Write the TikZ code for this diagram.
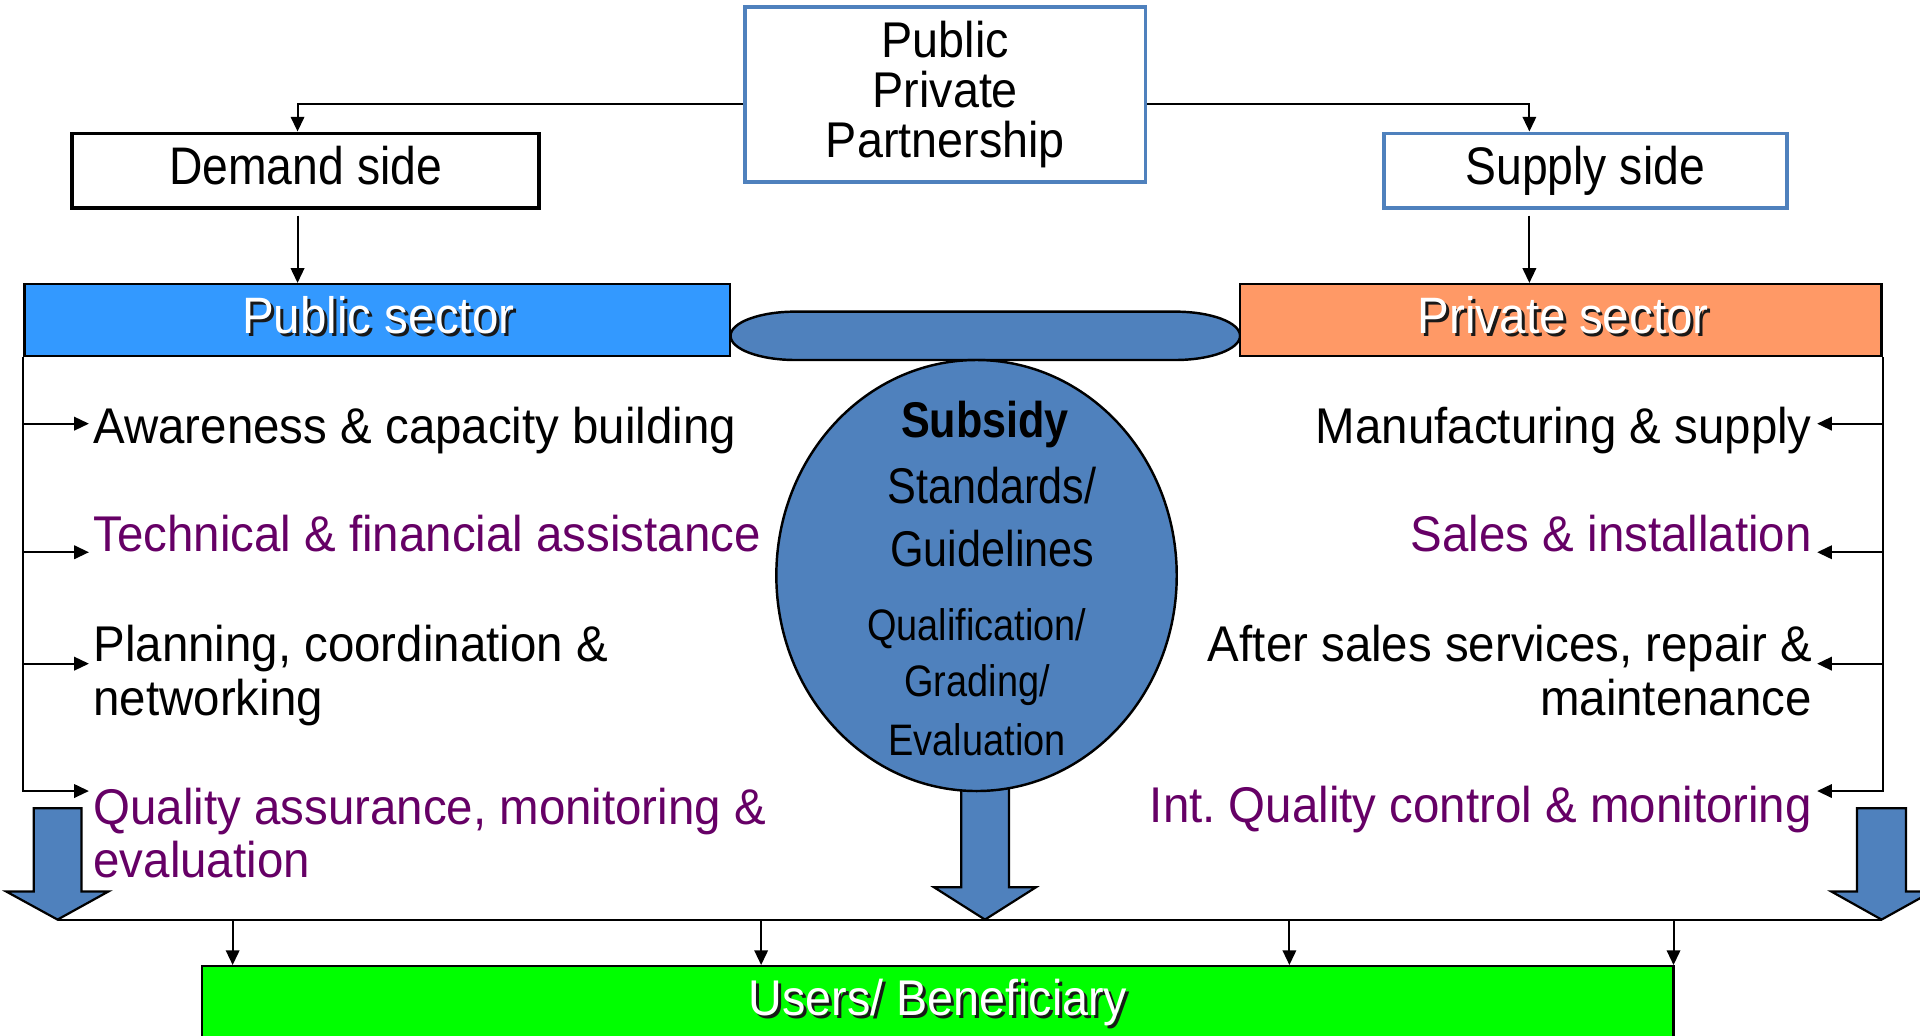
\documentclass[tikz,border=0pt]{standalone}
\usepackage{fontspec}
\setmainfont{Liberation Sans}
\newfontfamily\fn[FakeStretch=0.945]{Liberation Sans}
\newfontfamily\fppp[FakeStretch=0.93]{Liberation Sans}
\newfontfamily\fsec[FakeStretch=0.93]{Liberation Sans}
\newfontfamily\fside[FakeStretch=0.875]{Liberation Sans}
\newfontfamily\fell[FakeStretch=0.86]{Liberation Sans}
\usetikzlibrary{arrows.meta,shapes.geometric}
\definecolor{pptblue}{HTML}{4F81BD}
\definecolor{pubblue}{HTML}{3399FF}
\definecolor{privorange}{HTML}{FF9966}
\definecolor{usergreen}{HTML}{00FF00}
\definecolor{purp}{HTML}{660066}
\newcommand\shadowtxt[1]{\leavevmode\rlap{\kern1.2pt\raisebox{-1.2pt}{\color{black!90}#1}}{\color{white}#1}}
\frenchspacing
\begin{document}
\begin{tikzpicture}[x=0.5pt,y=-0.5pt,
  arr/.style={draw=black,line width=0.8pt,-{Triangle[length=6pt,width=5.5pt]}},
  conn/.style={draw=black,line width=0.8pt},
  lbl/.style={inner sep=0pt,font={\fn\fontsize{20.5}{22}\selectfont}},
  ellbl/.style={inner sep=0pt,anchor=base,font={\fell\fontsize{20.5}{22}\selectfont}},
  ellsm/.style={inner sep=0pt,anchor=base,font={\fell\fontsize{18}{20}\selectfont}},
  seclbl/.style={inner sep=0pt,anchor=base,font={\fsec\fontsize{20.9}{22}\selectfont}},
  sidelbl/.style={inner sep=0pt,anchor=base,font={\fside\fontsize{21.6}{22}\selectfont}},
  blockarrow/.style={fill=pptblue,draw=black,line width=0.9pt,line join=miter},
  box/.style={inner sep=0pt,line width=0.9pt,draw=black}]
\useasboundingbox (0,0) rectangle (1568,846);
\clip (0,0) rectangle (1568,846);
\fill[white] (0,0) rectangle (1568,846);

% capsule
\draw[fill=pptblue,draw=black,line width=1pt] (649.6,254.5) -- (959.7,254.5)
  arc[start angle=-90,end angle=90,x radius=53,y radius=19.75] -- (649.6,294)
  arc[start angle=90,end angle=270,x radius=53,y radius=19.75] -- cycle;

% block arrows
\coordinate (bl) at (47,751);
\coordinate (bm) at (804.4,751);
\coordinate (br) at (1536.6,751);
\draw[blockarrow] (27.5,660) -- (66.5,660) -- (66.5,728) -- (88.6,728) -- (bl) -- (5,728) -- (27.5,728) -- cycle;
\draw[blockarrow] (785,630) -- (824,630) -- (824,724.6) -- (846,724.6) -- (bm) -- (762.8,724.6) -- (785,724.6) -- cycle;
\draw[blockarrow] (1516.6,660) -- (1556.5,660) -- (1556.5,728) -- (1578,728) -- (br) -- (1495.5,728) -- (1516.6,728) -- cycle;

% ellipse
\node[ellipse,draw=black,line width=1pt,fill=pptblue,minimum width=163.5pt,minimum height=176pt,inner sep=0pt] (ell) at (797.5,470) {};
\node[ellbl,font={\fell\bfseries\fontsize{20.5}{22}\selectfont}] (subs) at (804.4,357) {Subsidy};
\node[ellbl] (stand) at (810,411) {Standards/};
\node[ellbl] (guide) at (810.4,462.8) {Guidelines};
\node[ellsm] (qual) at (797.6,522.7) {Qualification/};
\node[ellsm] (grad) at (798,569) {Grading/};
\node[ellsm] (eval) at (798,616.6) {Evaluation};

% top boxes
\node[draw=pptblue,line width=1.6pt,minimum width=163.5pt,minimum height=71.8pt,inner sep=0pt,align=center,font={\fppp\fontsize{20.5}{20.5}\selectfont}] (ppp) at (772,77.2) {Public\\Private\\Partnership};
\node[draw=black,line width=1.6pt,minimum width=190.5pt,minimum height=30.5pt,inner sep=0pt] (dem) at (249.5,139.5) {};
\node[sidelbl] (demt) at (249.6,151) {Demand side};
\node[draw=pptblue,line width=1.6pt,minimum width=164.8pt,minimum height=30.5pt,inner sep=0pt] (sup) at (1294.8,139.5) {};
\node[sidelbl] (supt) at (1294.6,151) {Supply side};

% sector boxes
\node[box,fill=pubblue,minimum width=288pt,minimum height=29.35pt] (pub) at (308,261.3) {};
\node[seclbl] (pubt) at (309,272) {\shadowtxt{Public sector}};
\node[box,fill=privorange,minimum width=262pt,minimum height=29.35pt] (priv) at (1274.6,261.3) {};
\node[seclbl] (privt) at (1276.6,272) {\shadowtxt{Private sector}};

% users box
\node[box,fill=usergreen,minimum width=600.85pt,minimum height=35.5pt] (users) at (765.8,824.5) {};
\node[inner sep=0pt,anchor=base,font={\fppp\fontsize{20.5}{22}\selectfont}] (userst) at (766,829) {\shadowtxt{Users/ Beneficiary}};

% left texts
\node[lbl,anchor=base west] (aw) at (76,362) {Awareness \& capacity building};
\node[lbl,anchor=base west,text=purp] (tf) at (76,450) {Technical \& financial assistance};
\node[lbl,anchor=base west,align=left] (pl) at (76,584) {Planning, coordination \&\\networking};
\node[lbl,anchor=base west,align=left,text=purp] (qa) at (76,717) {Quality assurance, monitoring \&\\evaluation};

% right texts
\node[lbl,anchor=base east] (mf) at (1480,362) {Manufacturing \& supply};
\node[lbl,anchor=base east,text=purp] (si) at (1480,450) {Sales \& installation};
\node[lbl,anchor=base east,align=right] (as) at (1480,584) {After sales services, repair \&\\maintenance};
\node[lbl,anchor=base east,text=purp] (iq) at (1480,672) {Int. Quality control \& monitoring};

% connectors top
\draw[arr] ([yshift=-3.9pt]ppp.west) -| ([xshift=-3.25pt]dem.north);
\draw[arr] ([yshift=-3.9pt]ppp.east) -| ([xshift=-22.9pt]sup.north);
\coordinate (dd) at (243,176);
\coordinate (sd) at (1249,176);
\draw[arr] (dd) -- (dd |- pub.north);
\draw[arr] (sd) -- (sd |- priv.north);

% left bracket
\coordinate (la1) at (72.6,346);
\coordinate (la2) at (72.6,451);
\coordinate (la3) at (72.6,542);
\coordinate (la4) at (72.6,646);
\foreach \c in {la1,la2,la3,la4} \draw[arr] (pub.south west) |- (\c);
% right bracket
\coordinate (ra1) at (1484,346);
\coordinate (ra2) at (1484,451);
\coordinate (ra3) at (1484,542);
\coordinate (ra4) at (1484,646);
\foreach \c in {ra1,ra2,ra3,ra4} \draw[arr] (priv.south east) |- (\c);

% bottom line and arrows
\draw[conn] (bl) -- (br);
\coordinate (u1) at (190,751);
\coordinate (u2) at (621.6,751);
\coordinate (u3) at (1053,751);
\coordinate (u4) at (1366.7,751);
\foreach \c in {u1,u2,u3,u4} \draw[arr] (\c) -- (\c |- users.north);
\end{tikzpicture}
\end{document}
